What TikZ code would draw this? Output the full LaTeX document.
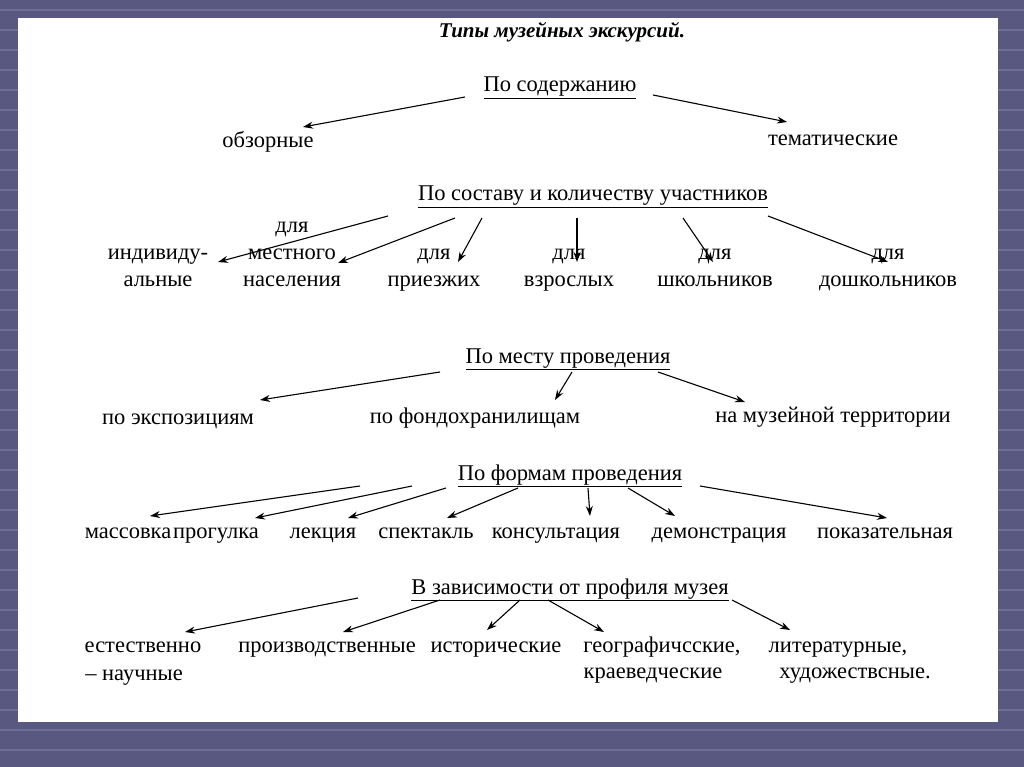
\documentclass[tikz,border=0pt]{standalone}
\usepackage{fontspec}
\setmainfont{Liberation Serif}
\usetikzlibrary{arrows.meta}
\definecolor{bgc}{RGB}{88,88,128}
\definecolor{bgl}{RGB}{110,110,150}
\begin{document}
\begin{tikzpicture}[x=1pt,y=-1pt,
 lbl/.style={font=\fontsize{22.5}{27}\selectfont,inner sep=0pt,align=center,anchor=base},
 hd/.style={font=\fontsize{22.5}{27}\selectfont,inner sep=0pt,anchor=base},
 ar/.style={-{Stealth[length=10pt,width=7pt]},line width=1.1pt}]
\useasboundingbox (0,0) rectangle (1024,767);
\fill[bgc] (0,0) rectangle (1024,767);
\foreach \y in {10,30,...,760} \draw[bgl,line width=2pt] (0,\y)--(1024,\y);
\fill[white] (18,18) rectangle (998,722);
\node[font=\fontsize{21}{24}\selectfont\bfseries\itshape,inner sep=0pt,anchor=base] (t) at (562,38) {Типы музейных экскурсий.};
\node[hd] (h1) at (560,92) {\underline{По содержанию}};
\node[lbl] (a1) at (268,148) {обзорные};
\node[lbl] (a2) at (833,146) {тематические};
\draw[ar] (465,97) -- (303,127);
\draw[ar] (653,95) -- (787,122);
\node[hd] (h2) at (593,201) {\underline{По составу и количеству участников}};
\node[lbl] (b1) at (158,286) {индивиду-\\альные};
\node[lbl] (b2) at (292,286) {для\\местного\\населения};
\node[lbl] (b3) at (434,286) {для\\приезжих};
\node[lbl] (b4) at (569,286) {для\\взрослых};
\node[lbl] (b5) at (715,286) {для\\школьников};
\node[lbl] (b6) at (888,286) {для\\дошкольников};
\draw[ar] (388,216) -- (218,262);
\draw[ar] (455,218) -- (338,263);
\draw[ar] (482,218) -- (458,262);
\draw[ar] (577,218) -- (577,262);
\draw[ar] (683,218) -- (713,262);
\draw[ar] (768,216) -- (888,262);
\node[hd] (h3) at (568,363) {\underline{По месту проведения}};
\node[lbl] (c1) at (178,424) {по экспозициям};
\node[lbl] (c2) at (475,423) {по фондохранилищам};
\node[lbl] (c3) at (833,422) {на музейной территории};
\draw[ar] (440,372) -- (260,400);
\draw[ar] (572,372) -- (555,400);
\draw[ar] (658,372) -- (745,402);
\node[hd] (h4) at (570,480) {\underline{По формам проведения}};
\node[lbl] (d1) at (128,538) {массовка};
\node[lbl] (d2) at (216,538) {прогулка};
\node[lbl] (d3) at (323,538) {лекция};
\node[lbl] (d4) at (426,538) {спектакль};
\node[lbl] (d5) at (556,538) {консультация};
\node[lbl] (d6) at (719,538) {демонстрация};
\node[lbl] (d7) at (885,538) {показательная};
\draw[ar] (360,486) -- (150,516);
\draw[ar] (412,486) -- (255,518);
\draw[ar] (446,488) -- (348,518);
\draw[ar] (518,488) -- (447,518);
\draw[ar] (588,488) -- (590,516);
\draw[ar] (628,488) -- (675,516);
\draw[ar] (700,486) -- (887,518);
\node[hd] (h5) at (570,594) {\underline{В зависимости от профиля музея}};
\node[lbl] (e1) at (143,652) {естественно};
\node[lbl] (e2) at (327,652) {производственные};
\node[lbl] (e3) at (496,652) {исторические};
\node[lbl] (e4) at (662,652) {географичсские,};
\node[lbl] (e5) at (838,652) {литературные,};
\node[lbl] (e6) at (134,680) {– научные};
\node[lbl] (e7) at (653,678) {краеведческие};
\node[lbl] (e8) at (855,678) {художествсные.};
\draw[ar] (358,598) -- (185,632);
\draw[ar] (440,600) -- (343,632);
\draw[ar] (520,600) -- (487,630);
\draw[ar] (548,600) -- (604,632);
\draw[ar] (732,600) -- (790,630);
\end{tikzpicture}
\end{document}
